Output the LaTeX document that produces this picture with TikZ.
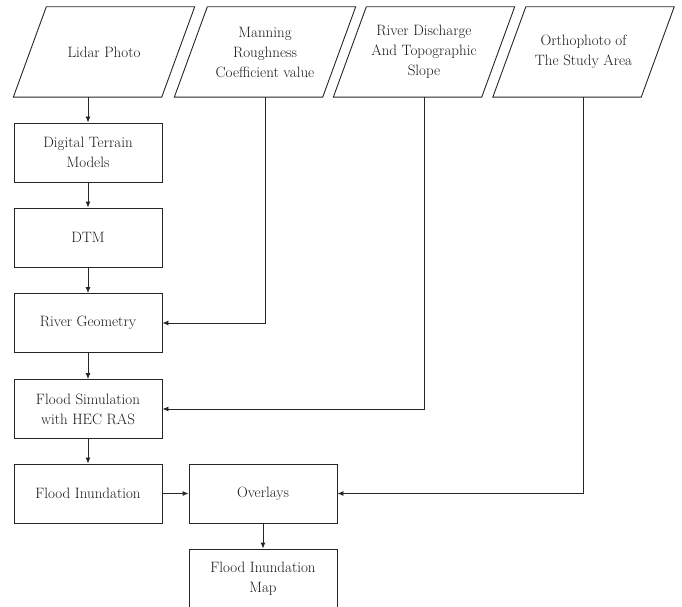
\documentclass[tikz,border=0pt]{standalone}
\usetikzlibrary{arrows.meta,positioning}
\begin{document}
\begin{tikzpicture}[x=1pt, y=-1pt, >={Latex[length=6pt,width=5pt]},
  every node/.style={font=\fontsize{15}{20}\selectfont, align=center, text=black!90},
  datain/.style={rectangle, minimum height=90pt, minimum width=181pt, inner sep=0pt},
  process/.style={draw=black!85, line width=0.9pt, rectangle, minimum width=148pt, minimum height=59pt, inner sep=2pt},
  edge/.style={draw=black!85, line width=0.9pt, line join=miter},
  flow/.style={->, draw=black!85, line width=0.9pt}]
\useasboundingbox (0,0) rectangle (682,607);

% Input data (top row), drawn as parallelograms below
\node[datain] (lidar) at (104,52) {Lidar Photo};
\node[datain] (manning) at (265,52) {Manning\\Roughness\\Coefficient value};
\node[datain] (discharge) at (424,52) {River Discharge\\And Topographic\\Slope};
\node[datain] (ortho) at (583.5,52) {Orthophoto of\\The Study Area};
\foreach \n in {lidar,manning,discharge,ortho}
  \draw[edge] ([xshift=33pt]\n.north west) -- (\n.north east)
    -- ([xshift=-33pt]\n.south east) -- (\n.south west) -- cycle;

% Processing chain (left column)
\node[process] (dtmodel) at (88,152.5) {Digital Terrain\\Models};
\node[process] (dtm) at (88,237.5) {DTM};
\node[process] (geometry) at (88,323) {River Geometry};
\node[process] (simulation) at (88,409) {Flood Simulation\\with HEC RAS};
\node[process] (inundation) at (88,493.5) {Flood Inundation};

% Output
\node[process] (overlays) at (263,493.5) {Overlays};
\node[process] (map) at (263,578.5) {Flood Inundation\\Map};

% Connectors
\draw[flow] (lidar.south -| dtmodel.north) -- (dtmodel.north);
\draw[flow] (dtmodel) -- (dtm);
\draw[flow] (dtm) -- (geometry);
\draw[flow] (geometry) -- (simulation);
\draw[flow] (simulation) -- (inundation);
\draw[flow] (inundation) -- (overlays);
\draw[flow] (overlays) -- (map);
\draw[flow] (manning.south) |- (geometry.east);
\draw[flow] (discharge.south) |- (simulation.east);
\draw[flow] (ortho.south) |- (overlays.east);
\end{tikzpicture}
\end{document}
